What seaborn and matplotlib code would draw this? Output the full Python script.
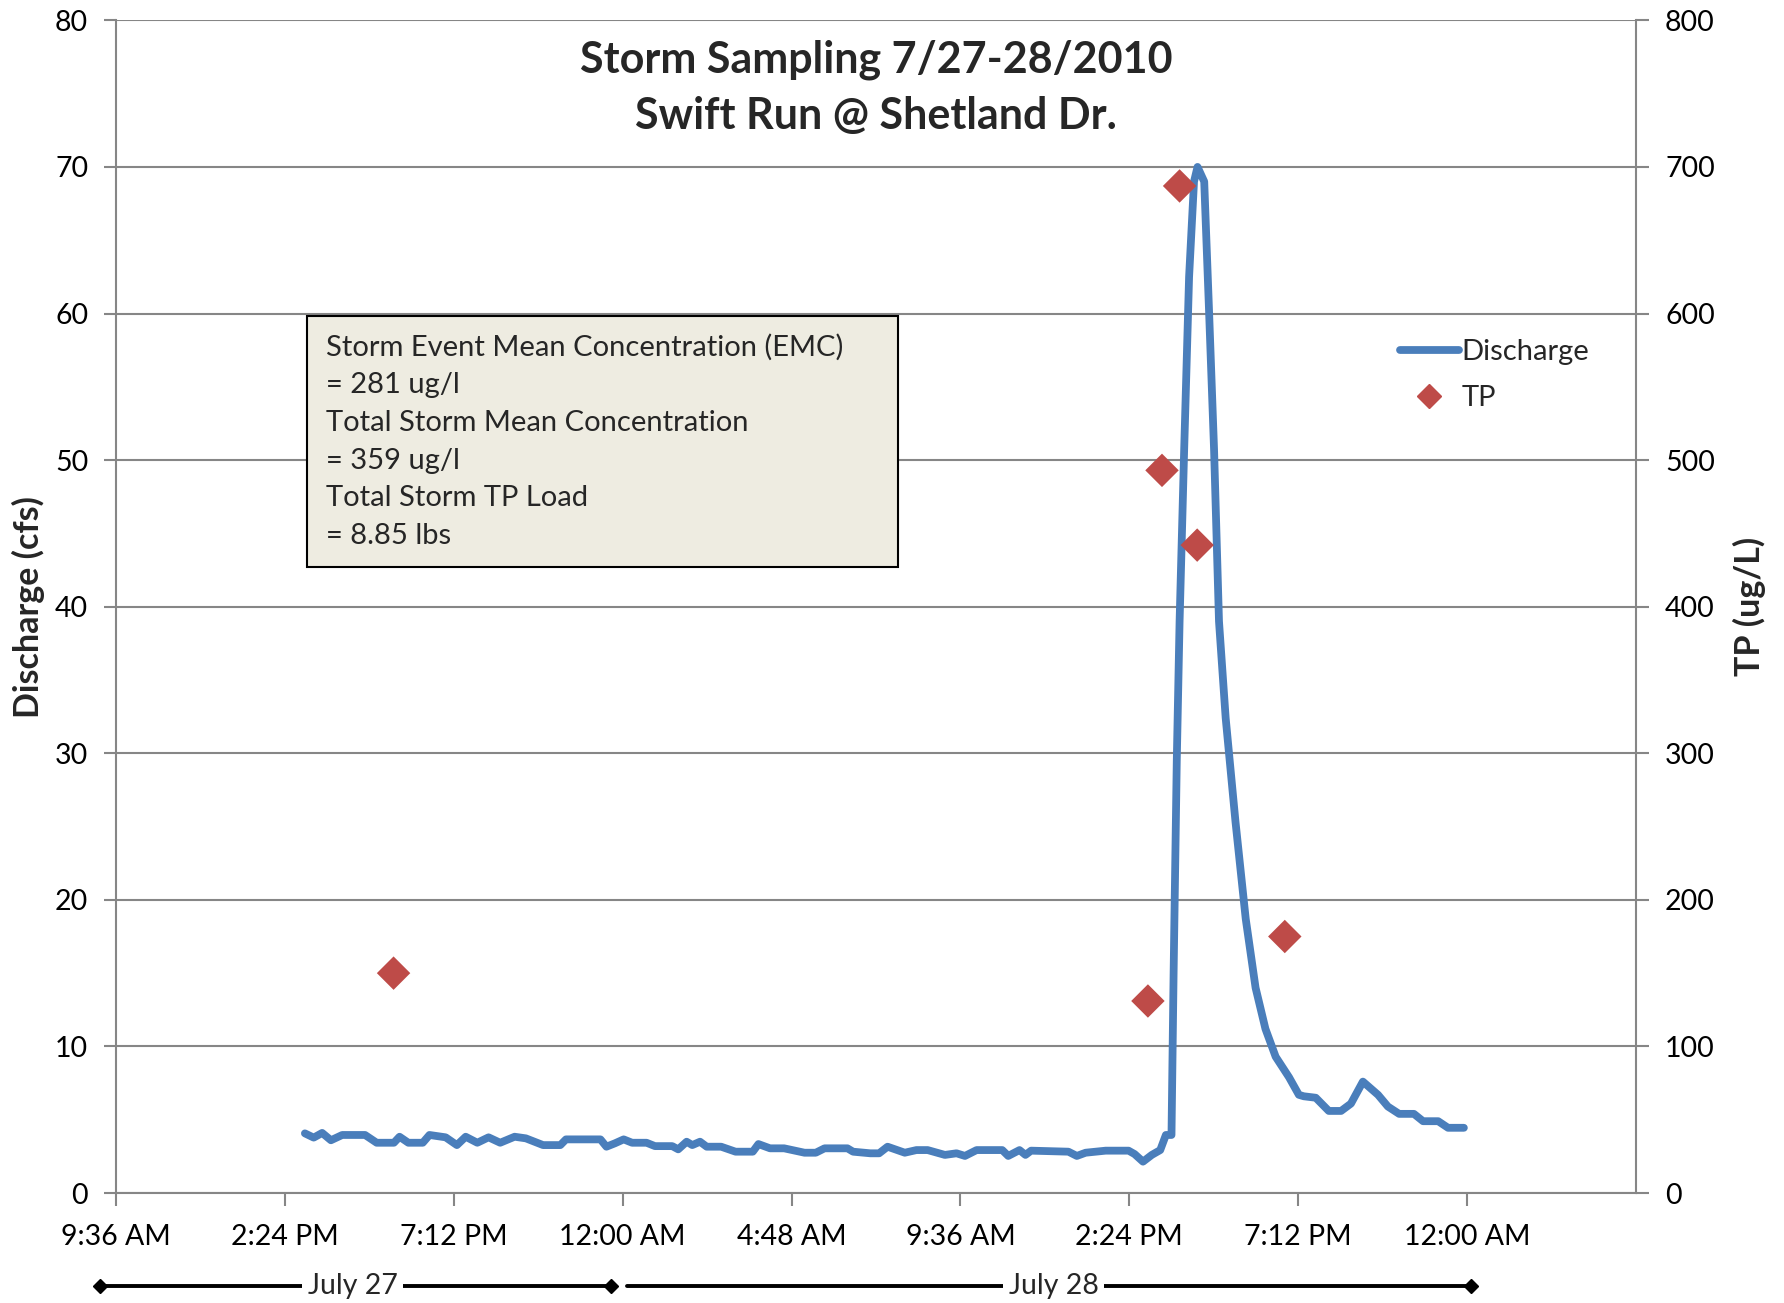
import matplotlib
matplotlib.use("Agg")
import matplotlib.pyplot as plt
import matplotlib.transforms as mtransforms
from matplotlib.lines import Line2D
from matplotlib.patches import Rectangle
import pandas as pd
import seaborn as sns

# Discharge record, hours since midnight 7/27/2010
discharge_hours = [14.97, 15.22, 15.46, 15.71, 16.03, 16.68, 17.01, 17.50, 17.66, 17.91,
                   18.32, 18.51, 18.97, 19.29, 19.54, 19.87, 20.19, 20.52, 20.93, 21.25,
                   21.74, 22.23, 22.39, 23.37, 23.54, 23.78, 24.03, 24.27, 24.68, 24.92,
                   25.41, 25.58, 25.82, 25.98, 26.20, 26.39, 26.80, 27.21, 27.70, 27.86,
                   28.19, 28.59, 29.17, 29.49, 29.74, 30.39, 30.55, 31.04, 31.29, 31.53,
                   32.02, 32.35, 32.67, 33.16, 33.49, 33.73, 34.06, 34.79, 34.96, 35.28,
                   35.45, 35.61, 36.67, 36.91, 37.16, 37.73, 38.38, 38.55, 38.79, 39.04,
                   39.28, 39.44, 39.60, 39.66, 39.75, 39.83, 39.96, 40.10, 40.24, 40.34,
                   40.53, 40.67, 40.81, 40.95, 41.14, 41.42, 41.71, 41.99, 42.27, 42.56,
                   42.94, 43.22, 43.36, 43.70, 44.07, 44.42, 44.70, 45.04, 45.47, 45.75,
                   46.07, 46.49, 46.75, 47.18, 47.46, 47.91]
discharge_cfs = [4.07, 3.78, 4.10, 3.60, 3.96, 3.96, 3.43, 3.43, 3.84, 3.43,
                 3.43, 3.96, 3.80, 3.27, 3.84, 3.43, 3.80, 3.43, 3.84, 3.73,
                 3.27, 3.27, 3.66, 3.66, 3.16, 3.39, 3.66, 3.43, 3.43, 3.20,
                 3.20, 2.98, 3.50, 3.27, 3.50, 3.16, 3.16, 2.82, 2.82, 3.34,
                 3.05, 3.05, 2.75, 2.75, 3.05, 3.05, 2.82, 2.71, 2.71, 3.16,
                 2.75, 2.93, 2.93, 2.60, 2.71, 2.53, 2.93, 2.93, 2.53, 2.93,
                 2.60, 2.89, 2.82, 2.53, 2.75, 2.89, 2.89, 2.66, 2.14, 2.60,
                 2.93, 3.96, 3.96, 15.0, 29.5, 39.0, 50.7, 62.5, 69.0, 70.0,
                 69.0, 60.0, 50.7, 39.0, 32.4, 25.3, 18.7, 14.0, 11.2, 9.3,
                 7.9, 6.7, 6.6, 6.5, 5.6, 5.6, 6.1, 7.6, 6.7, 5.9,
                 5.4, 5.4, 4.9, 4.9, 4.45, 4.45]

# TP grab samples
tp_hours = [17.49, 38.93, 39.33, 39.83, 40.33, 42.82]
tp_ugl = [150, 131, 493, 687, 442, 175]

tick_hours = [9.6, 14.4, 19.2, 24.0, 28.8, 33.6, 38.4, 43.2, 48.0]
tick_labels = ["9:36 AM", "2:24 PM", "7:12 PM", "12:00 AM", "4:48 AM",
               "9:36 AM", "2:24 PM", "7:12 PM", "12:00 AM"]

box_lines = ["Storm Event Mean Concentration (EMC)", "= 281 ug/l",
             "Total Storm Mean Concentration", "= 359 ug/l",
             "Total Storm TP Load", "= 8.85 lbs"]

blue = "#4A7EBB"
red = "#BE4B48"
grey = "#868686"

sns.set_style("white")
plt.rcParams['font.family'] = ['Lato', 'DejaVu Sans']

q_df = pd.DataFrame({"hours": discharge_hours, "discharge": discharge_cfs})
tp_df = pd.DataFrame({"hours": tp_hours, "tp": tp_ugl})

fig = plt.figure(figsize=(17.84, 13.03), dpi=100)
ax = fig.add_axes([0.065, 0.0844, 0.852, 0.9])
ax2 = ax.twinx()

sns.lineplot(data=q_df, x="hours", y="discharge", ax=ax, color=blue, linewidth=5.6,
             solid_capstyle="round", solid_joinstyle="round", zorder=3)
sns.scatterplot(data=tp_df, x="hours", y="tp", ax=ax2, color=red, marker="D", s=290,
                edgecolor="none", zorder=4)

ax.set_xlim(9.6, 52.8)
ax.set_ylim(0, 80)
ax2.set_ylim(0, 800)
ax.set_yticks(range(0, 81, 10))
ax2.set_yticks(range(0, 801, 100))
ax.set_xticks(tick_hours)
ax.set_xticklabels(tick_labels)

ax.grid(axis="y", color=grey, linewidth=1.5)
ax.set_axisbelow(True)
for a in (ax, ax2):
    a.spines["top"].set_visible(False)
    for s in ("left", "right", "bottom"):
        a.spines[s].set_color(grey)
        a.spines[s].set_linewidth(1.5)
ax.spines["right"].set_visible(False)
ax2.spines["left"].set_visible(False)
ax2.spines["bottom"].set_visible(False)

ax.tick_params(axis="both", direction="out", length=9, width=1.5, color=grey,
               labelsize=20.5, colors="black")
ax.tick_params(axis="x", pad=13, bottom=True)
ax.tick_params(axis="y", left=True, pad=11)
ax2.tick_params(axis="y", direction="out", length=9, width=1.5, color=grey,
                labelsize=20.5, right=True, pad=12)
for lab in ax.get_xticklabels() + ax.get_yticklabels() + ax2.get_yticklabels():
    lab.set_color("black")

ax.set_xlabel("")
ax.set_ylabel("Discharge (cfs)", fontsize=24.5, fontweight="bold")
ax.yaxis.set_label_coords(-0.047, 0.5)
ax2.set_ylabel("TP (ug/L)", fontsize=24.5, fontweight="bold", labelpad=13)

ax.text(0.5, 0.984, "Storm Sampling 7/27-28/2010\nSwift Run @ Shetland Dr.",
        transform=ax.transAxes, ha="center", va="top", fontsize=31,
        fontweight="bold", linespacing=1.5)

# summary box
ax.add_patch(Rectangle((0.1257, 0.534), 0.389, 0.214, transform=ax.transAxes,
                       facecolor="#EEECE1", edgecolor="black", linewidth=1.5, zorder=5))
ax.text(0.138, 0.733, "\n".join(box_lines), transform=ax.transAxes, ha="left",
        va="top", fontsize=21, linespacing=1.56, zorder=6)

handles = [Line2D([], [], color=blue, linewidth=5.6, solid_capstyle="round"),
           Line2D([], [], color=red, marker="D", linestyle="none", markersize=12)]
ax2.legend(handles, ["Discharge", "TP"], loc="upper left", bbox_to_anchor=(0.845, 0.728),
           frameon=False, fontsize=21, handlelength=2.0, handletextpad=0.1,
           labelspacing=0.68, borderaxespad=0, borderpad=0)

# day brackets below the time axis
trans = mtransforms.blended_transform_factory(ax.transData, fig.transFigure)
yb = 1 - 1286 / 1303
for x0, x1, xt, label, ends in [(9.15, 23.67, 16.33, "July 27", [9.15, 23.67]),
                                (24.12, 48.12, 36.25, "July 28", [48.12])]:
    ax.plot([x0, x1], [yb, yb], transform=trans, color="black", linewidth=2.8, clip_on=False)
    ax.plot(ends, [yb] * len(ends), transform=trans, color="black", marker="D",
            markersize=7, linestyle="none", clip_on=False)
    ax.text(xt, yb, label, transform=trans, ha="center", va="center", fontsize=20.5,
            clip_on=False, bbox=dict(facecolor="white", edgecolor="none", pad=4))

fig.savefig("out.png", dpi=100)
